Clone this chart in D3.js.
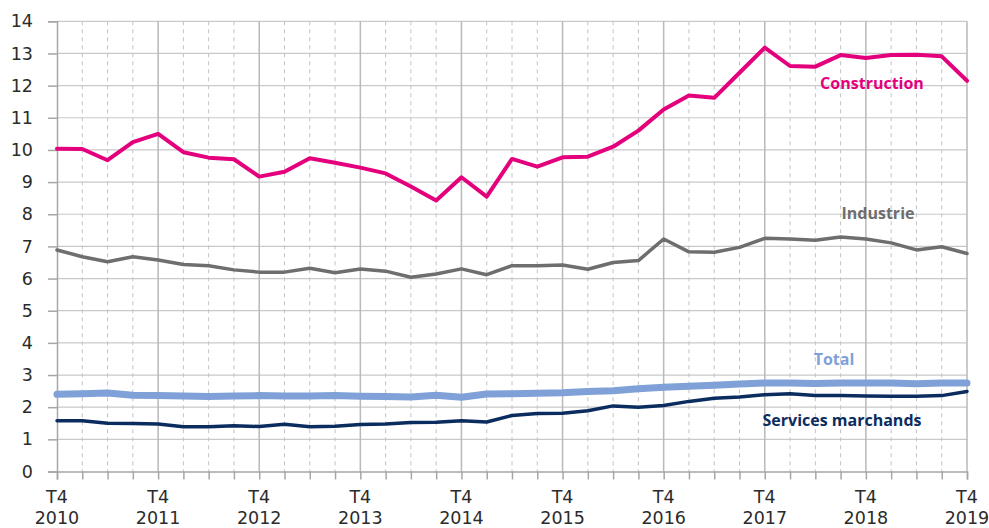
<!DOCTYPE html>
<html><head><meta charset="utf-8">
<script src="https://cdn.jsdelivr.net/npm/d3@7"></script>
<style>body{margin:0;background:#fff}svg{display:block}</style>
</head><body>
<svg id="chart" width="989" height="528"></svg>
<script>
const quarters = ["T4 2010","T1 2011","T2 2011","T3 2011","T4 2011","T1 2012","T2 2012","T3 2012","T4 2012","T1 2013","T2 2013","T3 2013","T4 2013","T1 2014","T2 2014","T3 2014","T4 2014","T1 2015","T2 2015","T3 2015","T4 2015","T1 2016","T2 2016","T3 2016","T4 2016","T1 2017","T2 2017","T3 2017","T4 2017","T1 2018","T2 2018","T3 2018","T4 2018","T1 2019","T2 2019","T3 2019","T4 2019"];
const construction = [10.04,10.03,9.68,10.24,10.5,9.93,9.76,9.71,9.17,9.32,9.74,9.6,9.45,9.27,8.86,8.43,9.15,8.55,9.72,9.48,9.77,9.79,10.1,10.6,11.26,11.69,11.62,12.4,13.18,12.61,12.59,12.95,12.86,12.95,12.96,12.91,12.15];
const industrie = [6.89,6.68,6.52,6.68,6.58,6.44,6.4,6.27,6.2,6.2,6.32,6.18,6.3,6.23,6.04,6.14,6.3,6.12,6.4,6.4,6.42,6.29,6.5,6.56,7.23,6.83,6.82,6.97,7.25,7.23,7.19,7.29,7.23,7.11,6.89,6.99,6.78];
const total = [2.4,2.42,2.44,2.37,2.36,2.35,2.33,2.35,2.36,2.35,2.35,2.36,2.34,2.33,2.32,2.37,2.31,2.41,2.42,2.43,2.45,2.49,2.51,2.57,2.62,2.65,2.68,2.72,2.75,2.75,2.74,2.75,2.75,2.75,2.73,2.75,2.75];
const services = [1.58,1.58,1.5,1.49,1.48,1.39,1.39,1.42,1.4,1.47,1.39,1.41,1.46,1.48,1.52,1.53,1.58,1.54,1.74,1.8,1.81,1.89,2.04,2.0,2.05,2.18,2.28,2.32,2.39,2.42,2.36,2.36,2.35,2.34,2.34,2.36,2.49];
const yTicks = [0,1,2,3,4,5,6,7,8,9,10,11,12,13,14];
const xLabelYears = ["2010","2011","2012","2013","2014","2015","2016","2017","2018","2019"];

const svg = d3.select("#chart");
const mLeft = 57, mRight = 967, mTop = 21.3, mBottom = 471.5;
const x = d3.scaleLinear().domain([0, quarters.length - 1]).range([mLeft, mRight]);
const y = d3.scaleLinear().domain([0, 14]).range([mBottom, mTop]);

const grid = svg.append("g");
grid.selectAll("line.h").data(yTicks.filter(d => d > 0)).join("line")
  .attr("x1", mLeft).attr("x2", mRight).attr("y1", d => y(d)).attr("y2", d => y(d))
  .attr("stroke", "#c9c9c9").attr("stroke-width", 1.2);
grid.selectAll("line.v").data(d3.range(1, quarters.length)).join("line")
  .attr("x1", d => x(d)).attr("x2", d => x(d)).attr("y1", mTop).attr("y2", mBottom)
  .attr("stroke", d => d % 4 === 0 ? "#b9b9b9" : "#c2c2c2")
  .attr("stroke-width", d => d % 4 === 0 ? 1.5 : 1)
  .attr("stroke-dasharray", d => d % 4 === 0 ? null : "4,4");

const yAxis = d3.axisLeft(y).tickValues(yTicks).tickSize(9).tickPadding(15).tickFormat(d3.format("d"));
const gy = svg.append("g").attr("transform", `translate(${mLeft},0)`).call(yAxis);
gy.select(".domain").attr("stroke", "#a6a6a6").attr("stroke-width", 1.5);
gy.selectAll(".tick line").attr("stroke", "#a6a6a6").attr("stroke-width", 1.5);
gy.selectAll(".tick text").attr("font-family", "DejaVu Sans").attr("font-size", 17.5).attr("fill", "#2b2b2b");

const xAxis = d3.axisBottom(x).tickValues(d3.range(quarters.length)).tickSize(8).tickFormat("");
const gx = svg.append("g").attr("transform", `translate(0,${mBottom})`).call(xAxis);
gx.select(".domain").attr("stroke", "#a6a6a6").attr("stroke-width", 1.5);
gx.selectAll(".tick line").attr("stroke", "#a6a6a6").attr("stroke-width", 1.5);

const labIdx = d3.range(0, quarters.length, 4);
const xl = svg.append("g");
xl.selectAll("text.q").data(labIdx).join("text").attr("class", "q")
  .attr("x", d => x(d)).attr("y", 503).attr("text-anchor", "middle")
  .attr("font-family", "DejaVu Sans").attr("font-size", 17.5).attr("fill", "#2b2b2b")
  .text(d => quarters[d].split(" ")[0]);
xl.selectAll("text.yr").data(labIdx).join("text").attr("class", "yr")
  .attr("x", d => x(d)).attr("y", 524).attr("text-anchor", "middle")
  .attr("font-family", "DejaVu Sans").attr("font-size", 17.5).attr("fill", "#2b2b2b")
  .text((d, i) => xLabelYears[i]);

const line = d3.line().x((d, i) => x(i)).y(d => y(d));
const series = [
  {data: total, color: "#7fa1d8", w: 7},
  {data: services, color: "#0b2c5f", w: 3.5},
  {data: industrie, color: "#6e6e6e", w: 3.5},
  {data: construction, color: "#e4007d", w: 4}
];
svg.append("g").selectAll("path").data(series).join("path")
  .attr("d", d => line(d.data)).attr("fill", "none")
  .attr("stroke", d => d.color).attr("stroke-width", d => d.w)
  .attr("stroke-linejoin", "round").attr("stroke-linecap", "round");

const labels = [
  {t: "Construction", x: 872, y: 89, c: "#e4007d"},
  {t: "Industrie", x: 878, y: 219, c: "#6e6e6e"},
  {t: "Total", x: 834, y: 365, c: "#7fa1d8"},
  {t: "Services marchands", x: 842, y: 426, c: "#0b2c5f"}
];
svg.append("g").selectAll("text").data(labels).join("text")
  .attr("x", d => d.x).attr("y", d => d.y).attr("text-anchor", "middle")
  .attr("font-family", "Open Sans").attr("font-weight", "bold").attr("font-size", 16)
  .attr("fill", d => d.c).text(d => d.t);
</script>
</body></html>
